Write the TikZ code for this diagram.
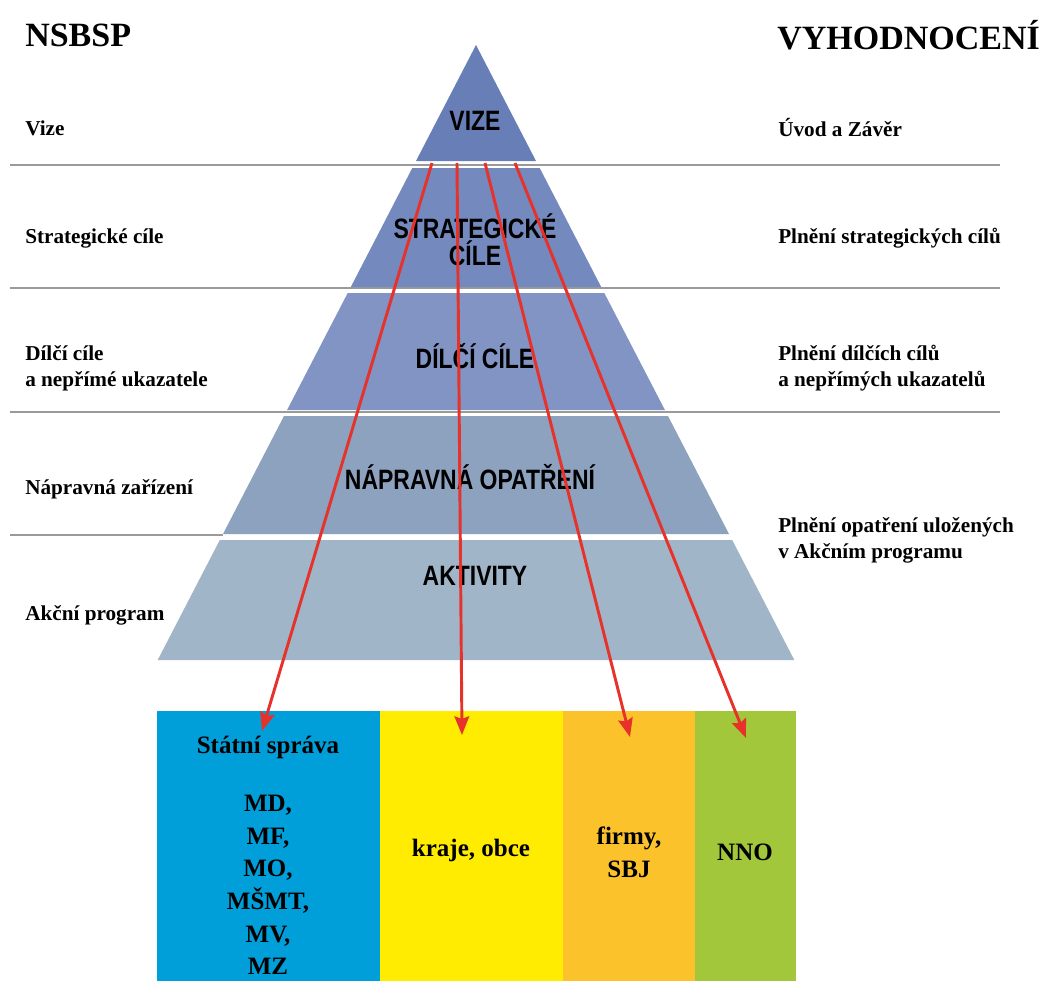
\documentclass[tikz,border=0pt]{standalone}
\usepackage{fontspec}
\setmainfont{Liberation Serif}
\newfontfamily\pyrfont{Liberation Sans}
\usetikzlibrary{arrows.meta}
\definecolor{tone}{HTML}{687EB6}
\definecolor{ttwo}{HTML}{7489BE}
\definecolor{tthree}{HTML}{8194C4}
\definecolor{tfour}{HTML}{8CA2BF}
\definecolor{tfive}{HTML}{A0B6C8}
\definecolor{sepgray}{HTML}{9A9A9A}
\definecolor{arrowred}{HTML}{E6322A}
\definecolor{bblue}{HTML}{009FDA}
\definecolor{byellow}{HTML}{FFEC00}
\definecolor{borange}{HTML}{FBC22B}
\definecolor{bgreen}{HTML}{A2C73B}
\begin{document}
\begin{tikzpicture}[x=0.75pt,y=-0.75pt,
  side/.style={font=\bfseries\fontsize{15.9}{19.5}\selectfont, anchor=west, align=left, inner sep=0},
  head/.style={font=\bfseries\fontsize{25.5}{30}\selectfont, anchor=west, inner sep=0},
  pyr/.style={font=\pyrfont\bfseries\fontsize{21}{20.5}\selectfont, align=center, inner sep=0, xscale=0.82},
  boxtxt/.style={font=\bfseries\fontsize{18.75}{24.5}\selectfont, align=center, inner sep=0},
  sep/.style={draw=sepgray, line width=1.5pt},
  colbox/.style={anchor=north west, inner sep=0, minimum height=202.5pt},
  arr/.style={draw=arrowred, line width=2.2pt, -{Stealth[length=14pt, width=11pt, inset=2pt]}}
]
\useasboundingbox (0,0) rectangle (1043,981);
\fill[white] (0,0) rectangle (1043,981);

% separator lines
\draw[sep] (10,165) -- (1000,165);
\draw[sep] (10,288) -- (1000,288);
\draw[sep] (10,412) -- (1000,412);
\draw[sep] (10,535) -- (223,535);

% pyramid tiers
\fill[tone] (476,45) -- (536,161) -- (416,161) -- cycle;
\fill[ttwo] (412.3,168) -- (539.7,168) -- (601.2,287) -- (350.8,287) -- cycle;
\fill[tthree] (347.7,293) -- (604.3,293) -- (664.9,410) -- (287.1,410) -- cycle;
\fill[tfour] (284,416) -- (668,416) -- (729,534) -- (223,534) -- cycle;
\fill[tfive] (219.8,540) -- (732.2,540) -- (794.3,660) -- (157.7,660) -- cycle;

% pyramid labels
\node[pyr] (pvize) at (475,121) {VIZE};
\node[pyr] (pstrat) at (475,240) {STRATEGICKÉ\\CÍLE};
\node[pyr] (pdilci) at (475,356) {DÍLČÍ CÍLE};
\node[pyr] (pnapr) at (470,477) {NÁPRAVNÁ OPATŘENÍ};
\node[pyr] (pakt) at (475,576) {AKTIVITY};

% headings
\node[head] (nsbsp) at (25,35) {NSBSP};
\node[head] (vyhod) at (777,35) {VYHODNOCENÍ};

% left labels
\node[side] (lvize) at (25,128) {Vize};
\node[side] (lstrat) at (25,238) {Strategické cíle};
\node[side] (ldilci) at (25,368) {Dílčí cíle\\a nepřímé ukazatele};
\node[side] (lnapr) at (25,489) {Nápravná zařízení};
\node[side] (lakce) at (25,615) {Akční program};

% right labels
\node[side] (rvize) at (778,128) {Úvod a Závěr};
\node[side] (rstrat) at (778,238) {Plnění strategických cílů};
\node[side] (rdilci) at (778,368) {Plnění dílčích cílů\\a nepřímých ukazatelů};
\node[side] (rakce) at (778,540) {Plnění opatření uložených\\v Akčním programu};

% bottom boxes
\node[colbox, fill=bblue, minimum width=167.25pt] (bstat) at (157,711) {};
\node[colbox, fill=byellow, minimum width=137.25pt] (bkraj) at (380,711) {};
\node[colbox, fill=borange, minimum width=99pt] (bfirm) at (563,711) {};
\node[colbox, fill=bgreen, minimum width=75.75pt] (bnno) at (695,711) {};

\node[boxtxt] (tstat) at (268,747) {Státní správa};
\node[boxtxt] (tmin) at (268,885) {MD,\\MF,\\MO,\\MŠMT,\\MV,\\MZ};
\node[boxtxt] (tkraj) at (471,850) {kraje, obce};
\node[boxtxt] (tfirm) at (629,852) {firmy,\\SBJ};
\node[boxtxt] (tnno) at (745,852) {NNO};

% arrows
\coordinate (s1) at (432,163);
\coordinate (s2) at (457,163);
\coordinate (s3) at (485,163);
\coordinate (s4) at (515,163);
\coordinate (e1) at (262,731);
\coordinate (e2) at (462,735);
\coordinate (e3) at (630,737);
\coordinate (e4) at (746,738);
\draw[arr] (s1) -- (e1);
\draw[arr] (s2) -- (e2);
\draw[arr] (s3) -- (e3);
\draw[arr] (s4) -- (e4);
\end{tikzpicture}
\end{document}
